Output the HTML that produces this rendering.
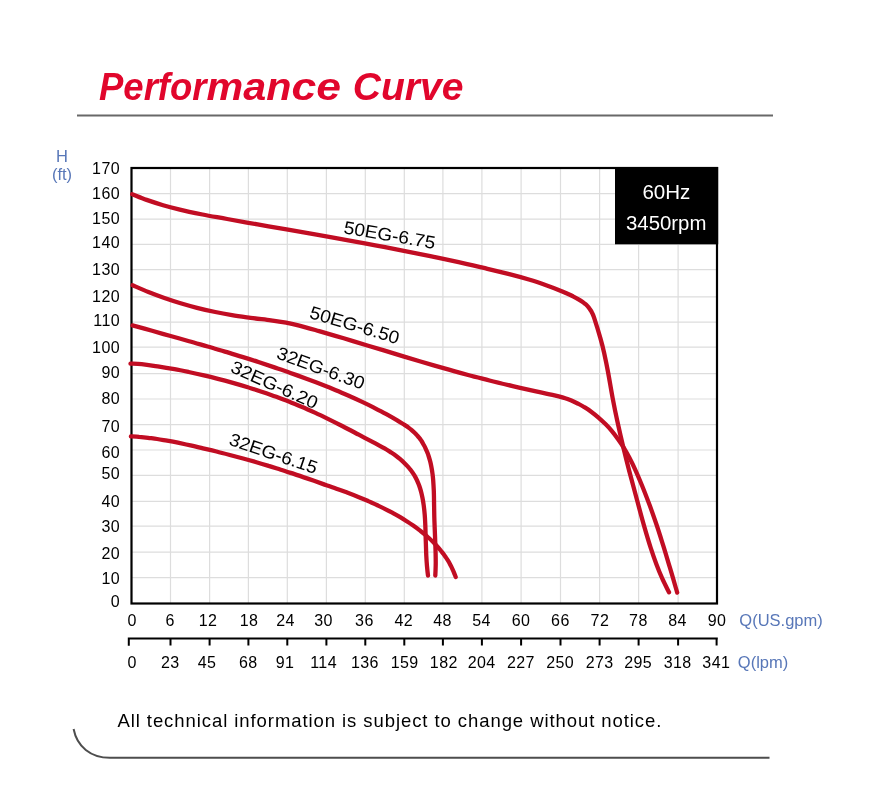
<!DOCTYPE html>
<html lang="en"><head><meta charset="utf-8"><title>Performance Curve</title>
<style>
html,body{margin:0;padding:0;background:#fff}
body{width:875px;height:787px;overflow:hidden}
svg{display:block;will-change:transform}
text{font-family:"Liberation Sans",Arial,sans-serif;fill:#000}
.title{font-size:38.5px;font-weight:bold;font-style:italic;fill:#e1062c}
.box{font-size:20px;fill:#fff;text-anchor:middle}
.cv{fill:none;stroke:#c10d23;stroke-width:4.3;stroke-linecap:round;stroke-linejoin:round}
.cl{font-size:18px}
.yl{font-size:16px;text-anchor:end;letter-spacing:.4px}
.xl{font-size:16px;text-anchor:middle;letter-spacing:.4px}
.ax{font-size:16.5px;fill:#5877b8}
.ft{font-size:18.5px}
</style></head><body>
<svg width="875" height="787" viewBox="0 0 875 787">
<rect width="875" height="787" fill="#fff"/>
<text y="99.6" class="title"><tspan x="99" textLength="71" lengthAdjust="spacingAndGlyphs">Perf</tspan><tspan x="170" textLength="36.6" lengthAdjust="spacingAndGlyphs">or</tspan><tspan x="206.6" textLength="84.8" lengthAdjust="spacingAndGlyphs">man</tspan><tspan x="291.4" textLength="49.5" lengthAdjust="spacingAndGlyphs">ce</tspan><tspan> </tspan><tspan x="352.8" textLength="110.7" lengthAdjust="spacingAndGlyphs">Curve</tspan></text>
<line x1="77" y1="115.6" x2="773" y2="115.6" stroke="#686868" stroke-width="2"/>
<path d="M170.5 168.0 V603.5 M209.6 168.0 V603.5 M248.4 168.0 V603.5 M287.3 168.0 V603.5 M326.4 168.0 V603.5 M365.3 168.0 V603.5 M404.3 168.0 V603.5 M442.9 168.0 V603.5 M481.9 168.0 V603.5 M521.1 168.0 V603.5 M560.5 168.0 V603.5 M599.6 168.0 V603.5 M638.6 168.0 V603.5 M678.1 168.0 V603.5 M131.5 193.6 H717.0 M131.5 219.1 H717.0 M131.5 244.4 H717.0 M131.5 269.7 H717.0 M131.5 296.9 H717.0 M131.5 322.1 H717.0 M131.5 347.1 H717.0 M131.5 373.6 H717.0 M131.5 399.0 H717.0 M131.5 424.6 H717.0 M131.5 450.0 H717.0 M131.5 475.4 H717.0 M131.5 501.4 H717.0 M131.5 526.1 H717.0 M131.5 552.1 H717.0 M131.5 577.6 H717.0" stroke="#dddddd" stroke-width="1.2" fill="none"/>
<rect x="615" y="167" width="103.2" height="77.3" fill="#000"/>
<text x="666.4" y="198.8" class="box" textLength="48" lengthAdjust="spacingAndGlyphs">60Hz</text>
<text x="666.2" y="229.6" class="box" textLength="80.4" lengthAdjust="spacingAndGlyphs">3450rpm</text>
<rect x="131.5" y="168.0" width="585.5" height="435.5" fill="none" stroke="#000" stroke-width="2.2"/>
<path d="M132.2 194.2 C134.6 195.1 141.4 198.1 146.6 199.9 C151.8 201.7 157.6 203.6 163.1 205.2 C168.6 206.8 173.2 208.0 179.8 209.6 C186.4 211.2 194.6 212.9 202.5 214.5 C210.4 216.1 218.0 217.3 227.2 219.0 C236.4 220.7 247.5 222.6 257.6 224.4 C267.7 226.2 278.2 228.0 288.0 229.7 C297.8 231.4 306.7 233.0 316.5 234.7 C326.3 236.4 337.1 238.3 346.9 240.1 C356.7 241.9 365.8 243.5 375.3 245.3 C384.8 247.1 394.6 249.0 403.8 250.8 C413.0 252.6 421.2 254.3 430.3 256.2 C439.4 258.1 449.5 260.2 458.6 262.2 C467.7 264.2 476.6 266.2 485.0 268.2 C493.4 270.2 501.9 272.3 509.3 274.2 C516.8 276.1 523.6 278.0 529.7 279.8 C535.8 281.6 540.7 283.3 546.1 285.2 C551.5 287.1 557.8 289.5 562.3 291.4 C566.8 293.2 570.1 294.9 573.0 296.3 C575.9 297.8 577.9 298.9 579.8 300.1 C581.7 301.3 583.5 302.6 584.5 303.4 C585.5 304.1 585.3 303.9 586.0 304.6 C586.7 305.3 587.8 306.4 588.6 307.4 C589.4 308.4 590.3 309.7 590.8 310.5 C591.3 311.3 591.2 311.0 591.7 312.1 C592.2 313.2 592.6 313.1 594.0 317.4 C595.4 321.7 598.6 331.9 600.3 337.8 C602.0 343.7 602.8 346.8 604.1 352.7 C605.4 358.6 606.9 365.9 608.3 373.5 C609.7 381.1 611.2 390.4 612.7 398.3 C614.2 406.2 615.5 412.8 617.3 421.0 C619.1 429.2 621.3 438.9 623.3 447.3 C625.3 455.7 627.1 462.9 629.4 471.6 C631.7 480.3 634.5 490.5 636.9 499.5 C639.3 508.5 641.7 517.6 644.0 525.6 C646.3 533.6 648.6 541.4 650.7 547.8 C652.8 554.2 654.5 559.1 656.4 564.2 C658.3 569.3 660.1 573.7 662.2 578.4 C664.3 583.1 667.9 590.0 669.0 592.3" class="cv"/>
<path d="M132.6 285.3 C135.2 286.4 143.1 289.9 148.4 292.0 C153.7 294.1 159.0 296.1 164.4 298.0 C169.8 299.9 175.2 301.6 180.6 303.2 C186.0 304.8 191.2 306.3 197.0 307.8 C202.8 309.3 209.5 310.8 215.3 312.0 C221.1 313.2 226.1 314.1 232.0 315.1 C237.9 316.1 244.1 316.9 250.6 317.8 C257.1 318.7 265.0 319.5 270.9 320.3 C276.8 321.1 281.4 321.8 286.1 322.7 C290.8 323.6 293.8 324.2 299.3 325.6 C304.8 327.0 311.7 329.0 319.1 331.1 C326.5 333.2 335.5 335.9 343.7 338.3 C351.9 340.7 359.8 343.1 368.2 345.7 C376.6 348.2 385.7 351.0 394.4 353.6 C403.1 356.2 412.3 359.1 420.5 361.5 C428.7 363.9 435.6 365.9 443.5 368.1 C451.4 370.4 460.4 372.9 468.1 375.0 C475.8 377.1 482.1 378.6 489.5 380.5 C496.9 382.4 505.0 384.3 512.7 386.1 C520.5 387.9 529.0 389.8 536.0 391.3 C543.0 392.8 549.8 394.2 554.5 395.3 C559.2 396.4 561.7 397.2 564.4 398.0 C567.1 398.8 568.4 399.3 570.8 400.3 C573.1 401.3 576.2 402.8 578.5 403.9 C580.8 405.0 582.2 405.9 584.4 407.2 C586.6 408.5 589.2 410.2 591.5 411.9 C593.8 413.6 595.8 415.2 598.2 417.3 C600.6 419.4 603.5 422.1 605.7 424.3 C607.9 426.5 609.5 428.2 611.5 430.6 C613.5 433.0 615.7 435.9 617.7 438.7 C619.7 441.5 621.5 444.0 623.4 447.2 C625.3 450.4 627.3 453.8 629.3 457.6 C631.3 461.4 633.2 465.2 635.3 469.9 C637.4 474.6 639.7 479.9 642.1 485.7 C644.5 491.5 647.1 498.4 649.5 504.8 C651.9 511.2 654.0 517.3 656.3 524.0 C658.6 530.7 660.8 537.8 663.1 545.1 C665.4 552.4 667.6 560.0 670.0 567.9 C672.4 575.8 676.0 588.5 677.2 592.6" class="cv"/>
<path d="M132.5 325.4 C135.8 326.3 145.8 329.0 152.1 330.8 C158.4 332.6 164.4 334.3 170.6 336.0 C176.8 337.7 182.9 339.4 189.1 341.2 C195.3 342.9 201.6 344.8 207.6 346.5 C213.6 348.2 219.1 349.9 224.9 351.6 C230.7 353.3 236.6 355.2 242.2 356.9 C247.8 358.6 253.0 360.2 258.4 362.0 C263.8 363.8 269.1 365.6 274.4 367.4 C279.7 369.2 285.1 371.0 290.4 372.9 C295.7 374.8 301.3 376.8 306.4 378.7 C311.5 380.6 316.2 382.4 321.1 384.3 C326.0 386.2 331.1 388.2 335.8 390.2 C340.5 392.1 344.8 394.0 349.3 396.0 C353.8 398.0 358.6 400.2 362.7 402.1 C366.8 404.0 370.0 405.6 373.9 407.6 C377.8 409.6 382.1 411.8 385.9 413.9 C389.7 416.0 393.7 418.3 396.8 420.1 C399.9 421.9 402.4 423.6 404.5 424.9 C406.6 426.2 408.0 427.2 409.2 428.1 C410.4 429.0 410.8 429.4 411.8 430.2 C412.8 431.0 414.3 432.4 415.1 433.2 C415.9 434.0 415.9 434.0 416.6 434.8 C417.3 435.6 418.7 437.1 419.5 438.1 C420.3 439.1 420.8 439.9 421.4 440.8 C422.0 441.7 422.5 442.6 423.1 443.7 C423.7 444.8 424.6 446.3 425.2 447.6 C425.8 448.9 426.4 450.3 427.0 451.7 C427.6 453.1 428.1 454.4 428.6 456.0 C429.1 457.6 429.7 459.6 430.2 461.4 C430.7 463.2 431.0 464.9 431.4 467.0 C431.8 469.1 432.2 471.4 432.5 473.7 C432.8 475.9 433.0 477.7 433.2 480.5 C433.4 483.3 433.6 486.5 433.8 490.7 C434.0 494.9 434.0 500.6 434.1 505.5 C434.2 510.4 434.2 514.8 434.4 520.3 C434.6 525.8 434.9 532.8 435.1 538.2 C435.3 543.6 435.5 548.3 435.6 552.8 C435.7 557.3 435.8 561.4 435.7 565.2 C435.6 569.0 435.4 573.8 435.3 575.5" class="cv"/>
<path d="M130.5 363.6 C131.7 363.7 135.1 363.7 137.8 363.9 C140.6 364.1 143.4 364.4 147.0 364.8 C150.6 365.2 154.6 365.9 159.2 366.6 C163.8 367.3 169.6 368.3 174.5 369.2 C179.4 370.1 183.8 371.0 188.7 372.0 C193.6 373.0 199.0 374.2 203.9 375.4 C208.8 376.5 213.1 377.6 217.9 378.9 C222.7 380.1 227.9 381.5 232.9 382.9 C237.9 384.3 243.0 385.8 247.8 387.3 C252.6 388.8 256.9 390.1 261.6 391.7 C266.4 393.3 271.8 395.1 276.3 396.8 C280.8 398.5 284.5 399.9 288.8 401.6 C293.1 403.3 297.8 405.1 302.2 407.0 C306.6 408.9 311.0 410.9 315.4 412.9 C319.8 414.9 323.9 416.9 328.4 419.1 C332.9 421.3 337.1 423.4 342.2 426.0 C347.3 428.6 353.3 431.8 358.8 434.7 C364.3 437.6 371.1 441.1 375.4 443.4 C379.7 445.7 381.9 446.8 384.6 448.4 C387.3 450.0 389.7 451.6 391.6 452.8 C393.5 454.0 394.4 454.6 395.9 455.7 C397.4 456.8 399.4 458.5 400.7 459.6 C402.0 460.7 402.7 461.3 403.8 462.4 C404.9 463.5 406.4 465.0 407.4 466.1 C408.4 467.2 409.1 468.1 410.0 469.2 C410.9 470.3 411.7 471.4 412.5 472.5 C413.3 473.6 414.0 474.7 414.7 475.9 C415.4 477.1 416.0 478.3 416.6 479.5 C417.2 480.7 417.6 481.8 418.2 483.2 C418.8 484.6 419.5 486.4 420.0 488.0 C420.5 489.6 421.0 491.3 421.4 493.0 C421.8 494.7 422.1 496.0 422.5 498.0 C422.9 500.0 423.3 502.4 423.7 505.2 C424.1 507.9 424.4 511.2 424.7 514.5 C425.0 517.8 425.1 520.4 425.3 524.9 C425.5 529.4 425.6 536.3 425.8 541.5 C426.0 546.7 426.1 551.8 426.3 555.9 C426.5 560.0 426.7 562.9 427.0 566.2 C427.3 569.5 427.8 574.0 428.0 575.5" class="cv"/>
<path d="M130.9 436.3 C132.3 436.4 136.2 436.6 139.1 436.9 C142.0 437.1 145.1 437.4 148.1 437.8 C151.1 438.2 154.0 438.5 157.2 439.0 C160.4 439.5 163.6 440.1 167.1 440.7 C170.6 441.3 174.0 441.9 177.9 442.7 C181.8 443.5 186.3 444.5 190.5 445.4 C194.7 446.3 198.7 447.3 203.0 448.3 C207.3 449.3 212.0 450.4 216.5 451.5 C221.0 452.6 225.4 453.8 229.8 455.0 C234.2 456.2 238.7 457.3 243.1 458.5 C247.5 459.7 252.1 461.0 256.4 462.2 C260.6 463.4 264.5 464.6 268.6 465.9 C272.7 467.1 276.6 468.4 280.8 469.7 C285.0 471.0 289.2 472.4 293.8 473.9 C298.4 475.4 303.6 477.2 308.5 478.9 C313.4 480.6 318.7 482.5 323.3 484.1 C327.9 485.7 332.3 487.2 336.4 488.7 C340.5 490.1 343.9 491.4 347.7 492.8 C351.4 494.2 355.5 495.8 358.9 497.2 C362.3 498.6 365.1 499.8 368.2 501.1 C371.3 502.5 374.6 503.9 377.5 505.3 C380.4 506.7 383.1 508.0 385.7 509.3 C388.3 510.6 390.6 511.9 393.0 513.2 C395.4 514.5 397.8 515.8 400.2 517.2 C402.6 518.6 404.9 520.1 407.1 521.5 C409.3 522.9 411.2 524.2 413.2 525.6 C415.2 527.0 417.3 528.5 419.1 529.9 C420.9 531.3 422.5 532.4 424.1 533.8 C425.7 535.1 427.4 536.7 428.9 538.0 C430.4 539.3 431.6 540.5 432.9 541.8 C434.2 543.1 435.5 544.5 436.6 545.7 C437.7 546.9 438.5 547.8 439.6 549.1 C440.7 550.4 442.0 552.1 443.0 553.4 C444.0 554.7 444.8 555.9 445.7 557.1 C446.6 558.4 447.4 559.6 448.2 560.9 C449.0 562.2 449.8 563.8 450.4 565.0 C451.0 566.2 451.5 567.0 452.1 568.3 C452.7 569.6 453.4 571.1 454.0 572.6 C454.6 574.1 455.4 576.3 455.7 577.0" class="cv"/>
<text transform="translate(343.0 233.2) rotate(9.8)" class="cl" textLength="92.5" lengthAdjust="spacingAndGlyphs">50EG-6.75</text>
<text transform="translate(308.5 317.7) rotate(16.6)" class="cl" textLength="92.7" lengthAdjust="spacingAndGlyphs">50EG-6.50</text>
<text transform="translate(275.5 358.0) rotate(20.2)" class="cl" textLength="92.0" lengthAdjust="spacingAndGlyphs">32EG-6.30</text>
<text transform="translate(229.5 371.5) rotate(24.0)" class="cl" textLength="93.0" lengthAdjust="spacingAndGlyphs">32EG-6.20</text>
<text transform="translate(228.0 444.5) rotate(18.8)" class="cl" textLength="92.0" lengthAdjust="spacingAndGlyphs">32EG-6.15</text>
<text x="120" y="174.1" class="yl">170</text>
<text x="120" y="199.2" class="yl">160</text>
<text x="120" y="223.6" class="yl">150</text>
<text x="120" y="247.7" class="yl">140</text>
<text x="120" y="275.1" class="yl">130</text>
<text x="120" y="301.7" class="yl">120</text>
<text x="120" y="325.8" class="yl">110</text>
<text x="120" y="353.0" class="yl">100</text>
<text x="120" y="378.1" class="yl">90</text>
<text x="120" y="403.9" class="yl">80</text>
<text x="120" y="431.7" class="yl">70</text>
<text x="120" y="458.0" class="yl">60</text>
<text x="120" y="478.9" class="yl">50</text>
<text x="120" y="507.2" class="yl">40</text>
<text x="120" y="531.7" class="yl">30</text>
<text x="120" y="559.0" class="yl">20</text>
<text x="120" y="584.0" class="yl">10</text>
<text x="120" y="607.0" class="yl">0</text>
<text x="132.2" y="625.8" class="xl">0</text>
<text x="132.2" y="668.1" class="xl">0</text>
<text x="170.2" y="625.8" class="xl">6</text>
<text x="170.3" y="668.1" class="xl">23</text>
<text x="208.1" y="625.8" class="xl">12</text>
<text x="207.1" y="668.1" class="xl">45</text>
<text x="249.0" y="625.8" class="xl">18</text>
<text x="248.3" y="668.1" class="xl">68</text>
<text x="285.5" y="625.8" class="xl">24</text>
<text x="285.0" y="668.1" class="xl">91</text>
<text x="323.6" y="625.8" class="xl">30</text>
<text x="323.6" y="668.1" class="xl">114</text>
<text x="364.4" y="625.8" class="xl">36</text>
<text x="364.9" y="668.1" class="xl">136</text>
<text x="403.8" y="625.8" class="xl">42</text>
<text x="404.6" y="668.1" class="xl">159</text>
<text x="442.6" y="625.8" class="xl">48</text>
<text x="443.8" y="668.1" class="xl">182</text>
<text x="481.6" y="625.8" class="xl">54</text>
<text x="481.6" y="668.1" class="xl">204</text>
<text x="521.1" y="625.8" class="xl">60</text>
<text x="520.9" y="668.1" class="xl">227</text>
<text x="560.4" y="625.8" class="xl">66</text>
<text x="560.2" y="668.1" class="xl">250</text>
<text x="599.9" y="625.8" class="xl">72</text>
<text x="599.7" y="668.1" class="xl">273</text>
<text x="638.4" y="625.8" class="xl">78</text>
<text x="638.1" y="668.1" class="xl">295</text>
<text x="677.5" y="625.8" class="xl">84</text>
<text x="677.7" y="668.1" class="xl">318</text>
<text x="717.1" y="625.8" class="xl">90</text>
<text x="716.3" y="668.1" class="xl">341</text>
<path d="M127.8 638.6 H717.8 M128.8 638.6 V645.8 M170.5 638.6 V645.4 M209.6 638.6 V645.4 M248.4 638.6 V645.4 M287.3 638.6 V645.4 M326.4 638.6 V645.4 M365.3 638.6 V645.4 M404.3 638.6 V645.4 M442.9 638.6 V645.4 M481.9 638.6 V645.4 M521.1 638.6 V645.4 M560.5 638.6 V645.4 M599.6 638.6 V645.4 M638.6 638.6 V645.4 M678.1 638.6 V645.4 M716.6 638.6 V645.4" stroke="#000" stroke-width="2" fill="none"/>
<text x="62" y="161.6" class="ax" text-anchor="middle">H</text>
<text x="62" y="180" class="ax" text-anchor="middle">(ft)</text>
<text x="739.3" y="625.8" class="ax">Q(US.gpm)</text>
<text x="737.8" y="668.2" class="ax">Q(lpm)</text>
<text x="117.4" y="726.6" class="ft" textLength="544">All technical information is subject to change without notice.</text>
<path d="M73.6 729 C77 746.5 90.5 757.8 110 757.8 H769.5" stroke="#4d4d4d" stroke-width="2" fill="none"/>
</svg>
</body></html>
